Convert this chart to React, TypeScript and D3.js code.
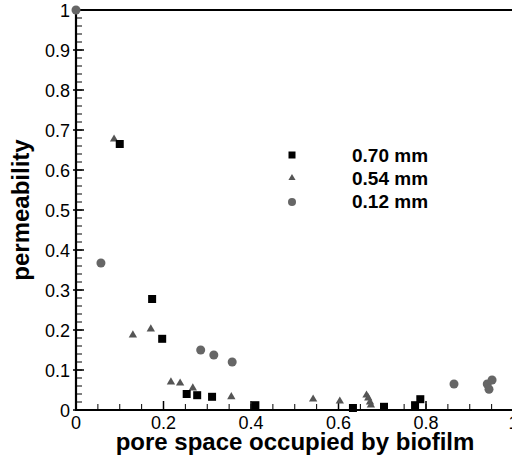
import React from "react";
import * as d3 from "d3";

const sq70x = [0.1, 0.174, 0.197, 0.253, 0.277, 0.311, 0.41, 0.633, 0.704, 0.775, 0.787];
const sq70y = [0.665, 0.2775, 0.178, 0.04, 0.037, 0.033, 0.012, 0.005, 0.008, 0.012, 0.027];

const tri54x = [0.087, 0.13, 0.171, 0.217, 0.238, 0.267, 0.355, 0.542, 0.603, 0.664, 0.668, 0.672, 0.674];
const tri54y = [0.677, 0.1875, 0.2025, 0.07, 0.067, 0.055, 0.033, 0.027, 0.022, 0.037, 0.03, 0.02, 0.012];

const cir12x = [0, 0.057, 0.285, 0.315, 0.357, 0.864, 0.94, 0.951, 0.944];
const cir12y = [1, 0.3675, 0.15, 0.1375, 0.12, 0.065, 0.065, 0.075, 0.052];

const xTicks = [0, 0.2, 0.4, 0.6, 0.8, 1];
const yTicks = [0, 0.1, 0.2, 0.3, 0.4, 0.5, 0.6, 0.7, 0.8, 0.9, 1];
const legendLabels = ["0.70 mm", "0.54 mm", "0.12 mm"];

const FONT = "'Liberation Sans', Arial, Helvetica, sans-serif";

export default function App() {
  const x = d3.scaleLinear().domain([0, 1]).range([76, 513.5]);
  const y = d3.scaleLinear().domain([0, 1]).range([410, 10]);
  const xMinor = d3.range(0, 1.0001, 0.05);
  const yMinor = d3.range(0, 1.0001, 0.02);
  const tri = d3.symbol().type(d3.symbolTriangle).size(30)() as string;
  const triL = d3.symbol().type(d3.symbolTriangle).size(22)() as string;

  return (
    <svg
      width={512}
      height={465}
      style={{ position: "absolute", left: 0, top: 0, display: "block", background: "#fff" }}
      fontFamily={FONT}
    >
      <rect x={0} y={0} width={512} height={465} fill="#fff" />
      {/* minor ticks */}
      {xMinor.map((v, i) => (
        <line key={"xm" + i} x1={x(v)} x2={x(v)} y1={410} y2={404} stroke="#000" strokeWidth={1} />
      ))}
      {yMinor.map((v, i) => (
        <line key={"ym" + i} x1={76} x2={82} y1={y(v)} y2={y(v)} stroke="#000" strokeWidth={1} />
      ))}
      {/* major ticks */}
      {xTicks.map((v, i) => (
        <line key={"xM" + i} x1={x(v)} x2={x(v)} y1={410} y2={401} stroke="#000" strokeWidth={1.5} />
      ))}
      {yTicks.map((v, i) => (
        <line key={"yM" + i} x1={73} x2={84} y1={y(v)} y2={y(v)} stroke="#000" strokeWidth={1.5} />
      ))}
      {/* axis frame */}
      <line x1={76} x2={76} y1={9} y2={411} stroke="#000" strokeWidth={2.2} />
      <line x1={75} x2={515} y1={410} y2={410} stroke="#000" strokeWidth={2.2} />
      <line x1={75} x2={515} y1={10} y2={10} stroke="#000" strokeWidth={2.2} />
      <line x1={513.5} x2={513.5} y1={9} y2={411} stroke="#000" strokeWidth={2.2} />
      {/* tick labels */}
      {xTicks.map((v, i) => (
        <text key={"xl" + i} x={x(v)} y={429} textAnchor="middle" fontSize={18} fill="#000">
          {d3.format("~g")(v)}
        </text>
      ))}
      {yTicks.map((v, i) => (
        <text key={"yl" + i} x={70} y={y(v) + 6.5} textAnchor="end" fontSize={18} fill="#000">
          {d3.format("~g")(v)}
        </text>
      ))}
      {/* axis titles */}
      <text x={295} y={450} textAnchor="middle" fontSize={24} fontWeight="bold" fill="#000">
        pore space occupied by biofilm
      </text>
      <text
        transform={`translate(29,210) rotate(-90)`}
        textAnchor="middle"
        fontSize={24}
        fontWeight="bold"
        fill="#000"
      >
        permeability
      </text>
      {/* data */}
      {cir12x.map((v, i) => (
        <circle key={"c" + i} cx={x(v)} cy={y(cir12y[i])} r={4.5} fill="#666" />
      ))}
      {tri54x.map((v, i) => (
        <path key={"t" + i} d={tri} transform={`translate(${x(v)},${y(tri54y[i])})`} fill="#555" />
      ))}
      {sq70x.map((v, i) => (
        <rect key={"s" + i} x={x(v) - 4} y={y(sq70y[i]) - 4} width={8} height={8} fill="#000" />
      ))}
      {/* legend */}
      <rect x={288.5} y={151.5} width={7} height={7} fill="#000" />
      <path d={triL} transform="translate(292,178)" fill="#555" />
      <circle cx={292} cy={202} r={4} fill="#666" />
      {legendLabels.map((l, i) => (
        <text key={"lg" + i} x={352} y={162 + i * 23} fontSize={19} fontWeight="bold" fill="#000">
          {l}
        </text>
      ))}
    </svg>
  );
}
